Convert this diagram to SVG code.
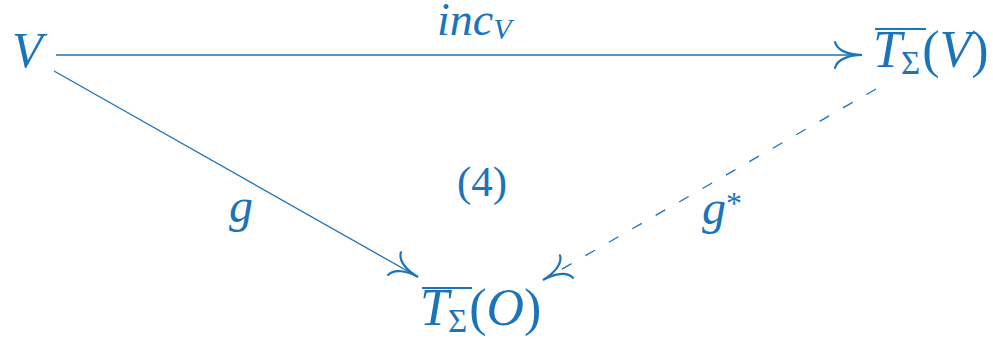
<svg xmlns="http://www.w3.org/2000/svg" width="993" height="339" viewBox="0 0 993 339">
<style>
.t{font-family:"Liberation Serif","Times New Roman",serif;fill:#1b73ba;}
.i{font-style:italic;}
.ln{stroke:#1b73ba;fill:none;stroke-width:1.3;}
.ah{stroke:#1b73ba;fill:none;stroke-width:2.2;stroke-linecap:round;}
.ov{stroke:#1b73ba;stroke-width:2.2;}
</style>
<defs>
<marker id="to" markerUnits="userSpaceOnUse" viewBox="-30 -16 34 32" refX="0" refY="0" markerWidth="34" markerHeight="32" orient="auto">
<path class="ah" d="M -27,-13 C -25,-4 -12,0 0,0 C -12,0 -25,4 -27,13"/>
</marker>
</defs>
<g id="connectors">
<path class="ln" d="M 56,55 L 862,55" marker-end="url(#to)"/>
<path class="ln" d="M 54,71 L 418,277" marker-end="url(#to)"/>
<path class="ln" d="M 876,89 L 543,280" stroke-dasharray="11 16" marker-end="url(#to)"/>
</g>
<g id="node-V">
<text class="t i" x="12" y="67" font-size="50">V</text>
</g>
<g id="node-TV">
<line class="ov" x1="875" y1="29" x2="926" y2="29"/>
<text class="t" x="873" y="67" font-size="52"><tspan class="i">T</tspan><tspan font-size="33" dy="7" dx="-1">Σ</tspan><tspan dy="-7" dx="2">(</tspan><tspan class="i">V</tspan><tspan>)</tspan></text>
</g>
<g id="node-TO">
<line class="ov" x1="422" y1="288" x2="472" y2="288"/>
<text class="t" x="420" y="325" font-size="52"><tspan class="i">T</tspan><tspan font-size="33" dy="7" dx="-1">Σ</tspan><tspan dy="-7" dx="2">(</tspan><tspan class="i">O</tspan><tspan>)</tspan></text>
</g>
<g id="labels">
<text class="t" x="437" y="35" font-size="46"><tspan class="i">inc</tspan><tspan class="i" font-size="30" dy="4">V</tspan></text>
<text class="t i" x="229" y="222" font-size="48">g</text>
<text class="t" x="702" y="224" font-size="48"><tspan class="i">g</tspan><tspan font-size="32" dy="-10">*</tspan></text>
<text class="t" x="457" y="196" font-size="43">(4)</text>
</g>
</svg>
